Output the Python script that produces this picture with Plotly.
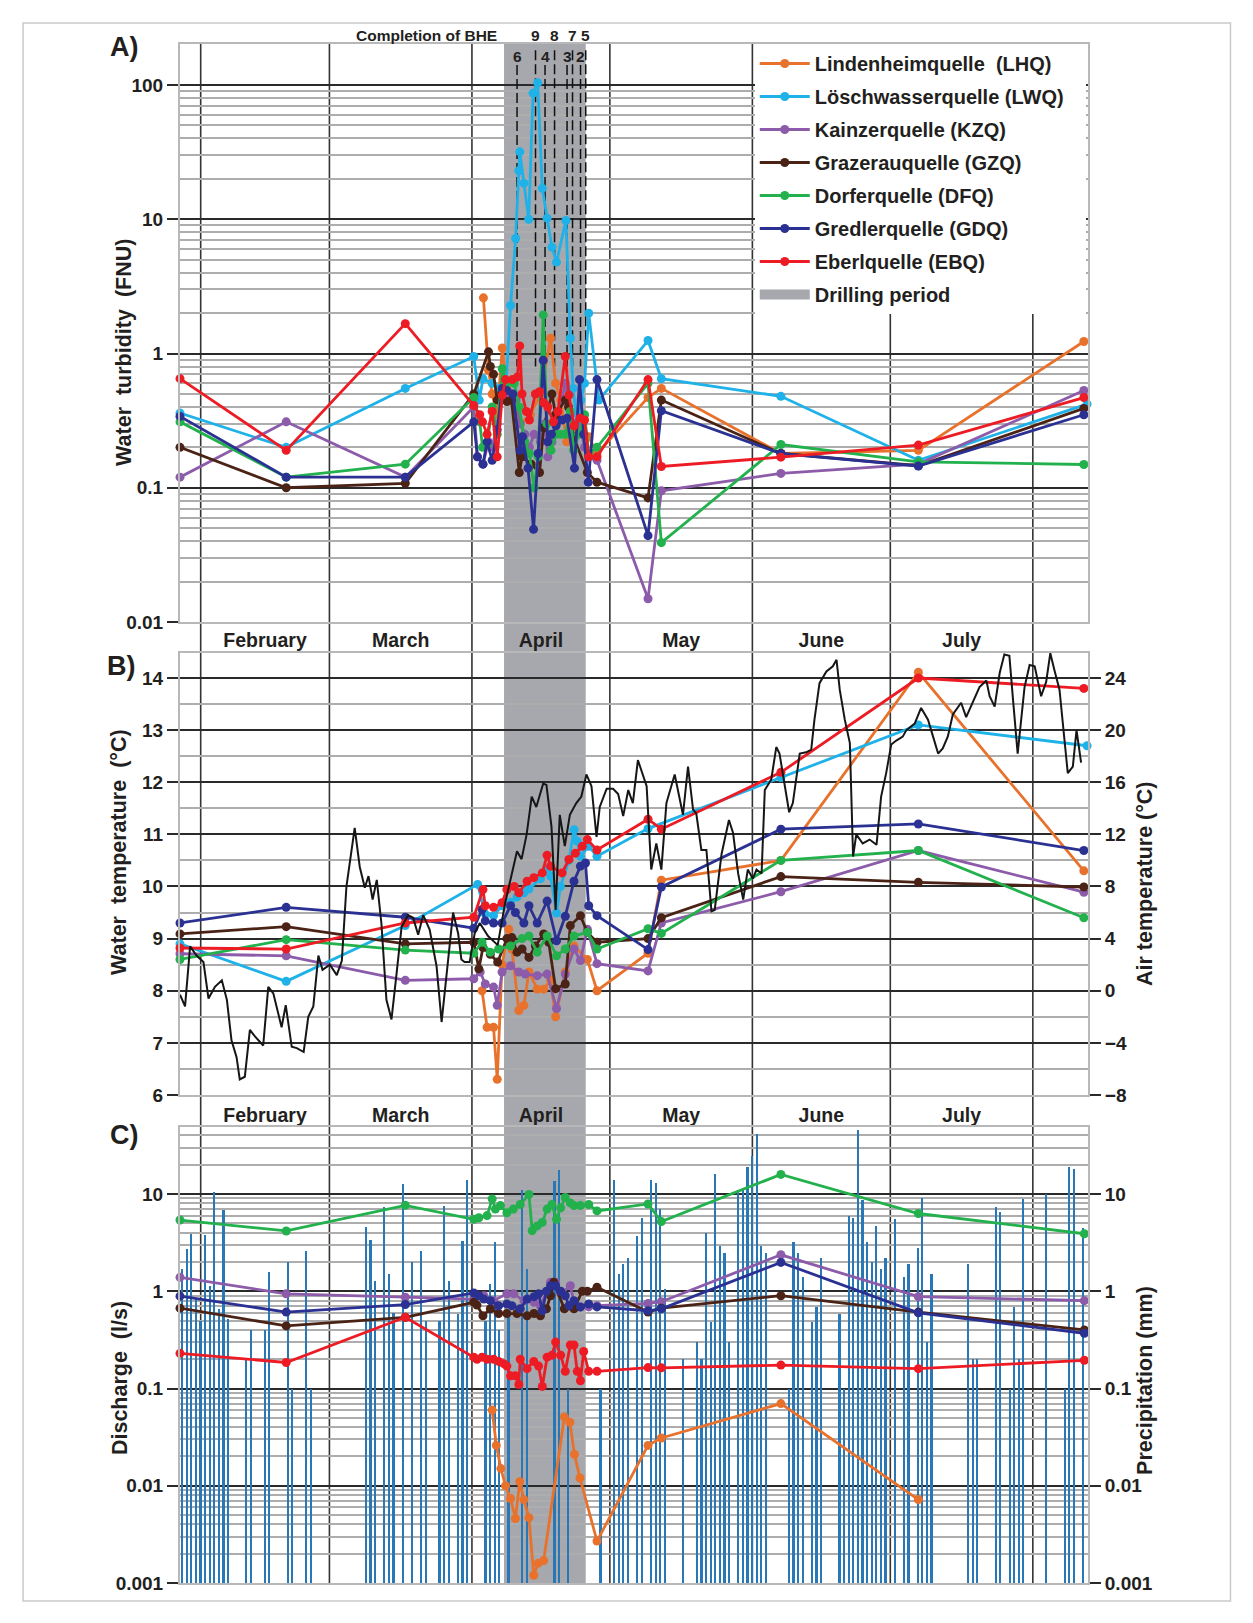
import numpy as np
import pandas as pd
import plotly.graph_objects as go

# ---------------------------------------------------------------- data
# time values are day-of-year (1 = 1 January; fractions = time of day)
codes = ["LHQ", "LWQ", "KZQ", "GZQ", "DFQ", "GDQ", "EBQ"]
names = ["Lindenheimquelle\u00a0 (LHQ)", "Löschwasserquelle (LWQ)\u00a0\u00a0\u00a0", "Kainzerquelle (KZQ)",
         "Grazerauquelle (GZQ)", "Dorferquelle (DFQ)", "Gredlerquelle (GDQ)", "Eberlquelle (EBQ)"]
colors = ["#E8722C", "#1EB2E8", "#8C5BAA", "#4B2316", "#22B14C", "#2A3192", "#ED1C24"]

# --- A) water turbidity (FNU)
turb_LHQ_day = [93.5, 94.6, 95.4, 96.5, 97.6, 98.6, 99.8, 101.5, 103.7, 105.9, 108.1, 109.2, 110.3, 111.6,
                112.7, 114.1, 116.4, 118.2, 129.3, 132.2, 158.2, 188.1, 224.1]
turb_LHQ = [2.6, 0.75, 0.5, 0.35, 1.1, 0.55, 0.45, 0.3, 0.35, 0.5, 1.3, 0.6, 0.45, 0.22,
            0.23, 0.3, 0.24, 0.18, 0.47, 0.55, 0.18, 0.19, 1.23]
turb_LWQ_day = [27.5, 50.6, 76.5, 91.4, 92.6, 93.4, 95.4, 96.8, 98.3, 99.4, 100.5, 101.2, 101.4, 102.3,
                103.35, 104.3, 105.3, 106.3, 107.35, 108.4, 109.4, 111.45, 112.4, 113.0, 113.9, 114.7,
                115.5, 116.4, 118.6, 129.3, 132.2, 158.2, 188.1, 224.8]
turb_LWQ = [0.36, 0.2, 0.55, 0.95, 0.45, 0.65, 0.6, 0.55, 0.5, 2.28, 7.2, 23, 31.8, 18.6,
            10, 87, 104, 17, 10.2, 6.2, 4.8, 9.8, 1.3, 0.55, 0.3, 0.45,
            0.6, 2.0, 0.45, 1.25, 0.65, 0.48, 0.16, 0.42]
turb_KZQ_day = [27.5, 50.6, 76.5, 91.4, 92.2, 93.4, 94.6, 95.4, 96.5, 97.6, 99.4, 100.6, 101.5, 102.5,
                103.5, 104.5, 105.9, 106.8, 107.5, 108.4, 109.4, 111.3, 112.4, 113.3, 114.6, 115.5,
                116.4, 118.2, 129.3, 132.2, 158.2, 188.1, 224.1]
turb_KZQ = [0.12, 0.31, 0.12, 0.4, 0.17, 0.15, 0.22, 0.2, 0.3, 0.45, 0.5, 0.45, 0.3, 0.25,
            0.2, 0.25, 0.22, 0.3, 0.17, 0.22, 0.3, 0.6, 0.35, 0.3, 0.28, 0.2,
            0.17, 0.16, 0.0149, 0.095, 0.128, 0.15, 0.53]
turb_GZQ_day = [27.5, 50.6, 76.5, 91.4, 94.6, 95.0, 95.7, 96.5, 97.5, 98.6, 99.6, 101.3, 101.9, 103.9,
                105.7, 106.6, 108.4, 109.2, 111.3, 112.0, 113.1, 116.1, 118.2, 129.3, 132.2, 158.2,
                188.1, 224.1]
turb_GZQ = [0.2, 0.1, 0.108, 0.5, 1.03, 0.8, 0.7, 0.45, 0.5, 0.44, 0.45, 0.13, 0.17, 0.15,
            0.13, 0.28, 0.5, 0.35, 0.45, 0.4, 0.24, 0.13, 0.11, 0.084, 0.45, 0.18,
            0.146, 0.39]
turb_DFQ_day = [27.5, 50.6, 76.5, 91.4, 92.7, 93.3, 94.3, 95.4, 96.5, 97.6, 98.6, 100.2, 101.3, 102.5,
                103.5, 104.5, 105.4, 106.5, 107.3, 108.2, 109.3, 110.3, 111.3, 112.4, 113.1, 114.2,
                115.5, 116.4, 118.2, 129.3, 132.2, 158.2, 188.1, 224.1]
turb_DFQ = [0.31, 0.12, 0.15, 0.47, 0.31, 0.2, 0.21, 0.4, 0.25, 0.77, 0.6, 0.6, 0.4, 0.22,
            0.18, 0.1, 0.17, 1.94, 0.3, 0.19, 0.25, 0.25, 0.25, 0.37, 0.19, 0.25,
            0.35, 0.18, 0.2, 0.6, 0.039, 0.21, 0.156, 0.149]
turb_GDQ_day = [27.5, 50.6, 76.5, 91.4, 92.2, 93.4, 94.3, 95.4, 96.5, 97.6, 98.6, 99.9, 101.5, 102.0,
                103.2, 104.4, 105.4, 106.5, 107.5, 108.3, 109.3, 110.6, 111.7, 113.3, 114.4, 115.3,
                116.3, 118.2, 129.3, 132.2, 158.2, 188.1, 224.1]
turb_GDQ = [0.34, 0.12, 0.12, 0.31, 0.17, 0.15, 0.22, 0.16, 0.27, 0.55, 0.53, 0.5, 0.19, 0.24,
            0.14, 0.049, 0.18, 0.89, 0.22, 0.25, 0.29, 0.32, 0.33, 0.14, 0.64, 0.25,
            0.11, 0.64, 0.044, 0.375, 0.18, 0.145, 0.35]
turb_EBQ_day = [27.5, 50.6, 76.5, 91.4, 92.7, 93.3, 94.3, 95.4, 96.5, 97.6, 98.3, 99.8, 100.9, 101.4,
                101.9, 102.85, 103.5, 104.8, 105.7, 106.6, 107.5, 108.7, 109.7, 111.3, 112.1, 113.2,
                114.5, 115.5, 116.4, 118.2, 129.3, 132.2, 158.2, 188.1, 224.1]
turb_EBQ = [0.65, 0.19, 1.67, 0.41, 0.35, 0.31, 0.25, 0.37, 0.17, 0.49, 0.64, 0.64, 0.67, 1.14,
            0.5, 0.37, 0.32, 0.5, 0.52, 0.43, 0.4, 0.31, 0.37, 0.95, 0.49, 0.29,
            0.33, 0.32, 0.17, 0.17, 0.64, 0.144, 0.169, 0.208, 0.47]

# --- B) water temperature (°C)
temp_LHQ_day = [93.2, 94.3, 95.7, 96.5, 97.55, 99.0, 99.7, 101.2, 102.3, 103.4, 105.2, 106.6, 108.1,
                109.2, 111.3, 113.2, 116.1, 118.2, 129.3, 132.2, 158.2, 188.1, 224.1]
temp_LHQ = [8.0, 7.3, 7.3, 6.3, 8.5, 9.18, 8.8, 7.62, 7.72, 8.36, 8.03, 8.03, 8.2,
            7.5, 8.36, 8.86, 8.6, 8.0, 8.72, 10.12, 10.5, 14.11, 10.3]
temp_LWQ_day = [27.5, 50.6, 76.5, 92.25, 93.9, 95.7, 97.55, 99.4, 100.8, 102.3, 103.4, 105.9, 107.35,
                108.1, 109.4, 110.25, 112.1, 113.2, 113.9, 114.6, 116.4, 118.2, 129.3, 158.2, 188.1, 224.8]
temp_LWQ = [8.9, 8.18, 9.25, 10.04, 9.47, 9.44, 9.63, 9.7, 9.8, 9.88, 9.95, 10.15, 10.33,
            10.2, 9.49, 10.0, 10.5, 11.09, 10.87, 10.58, 10.77, 10.58, 11.11, 12.09, 13.1, 12.7]
temp_KZQ_day = [27.5, 50.6, 76.5, 91.4, 92.8, 93.9, 95.7, 96.5, 97.55, 99.4, 101.2, 102.6, 105.2,
                107.35, 109.4, 111.3, 113.2, 114.6, 116.1, 118.2, 129.3, 132.2, 158.2, 188.1, 224.1]
temp_KZQ = [8.71, 8.67, 8.2, 8.23, 8.36, 8.13, 8.07, 7.72, 8.36, 8.48, 8.36, 8.32, 8.29,
            8.32, 7.66, 8.32, 8.8, 8.58, 9.18, 8.52, 8.38, 9.3, 9.9, 10.69, 9.89]
temp_GZQ_day = [27.5, 50.6, 76.5, 91.4, 92.5, 93.4, 95.0, 96.6, 98.6, 99.7, 100.8, 101.9, 103.4,
                104.8, 106.6, 107.7, 109.2, 111.3, 112.4, 114.6, 116.1, 118.2, 129.3, 132.2, 158.2,
                188.1, 224.1]
temp_GZQ = [9.09, 9.23, 8.9, 8.93, 8.42, 8.83, 8.7, 8.55, 9.0, 9.02, 8.74, 8.8, 8.64,
            8.86, 9.09, 8.93, 8.04, 8.13, 9.25, 9.44, 9.12, 8.93, 9.0, 9.4, 10.19,
            10.08, 9.99]
temp_DFQ_day = [27.5, 50.6, 76.5, 91.4, 93.2, 95.0, 96.8, 99.4, 101.9, 103.4, 105.2, 107.35, 109.4,
                111.3, 113.2, 116.1, 118.2, 129.3, 132.2, 158.2, 188.1, 224.1]
temp_DFQ = [8.6, 8.98, 8.78, 8.72, 8.93, 8.74, 8.8, 8.86, 9.0, 9.05, 8.74, 9.05, 8.67,
            8.8, 9.05, 9.12, 8.8, 9.19, 9.1, 10.5, 10.69, 9.4]
temp_GDQ_day = [27.5, 50.6, 76.5, 91.4, 93.2, 93.9, 95.7, 97.55, 99.4, 100.45, 102.3, 103.4, 105.2,
                107.35, 109.4, 111.3, 113.2, 114.6, 115.7, 116.4, 118.2, 129.3, 132.2, 158.2, 188.1, 224.1]
temp_GDQ = [9.3, 9.6, 9.41, 9.2, 9.56, 9.34, 9.3, 9.3, 9.63, 9.5, 9.3, 9.63, 9.3,
            9.72, 8.96, 9.43, 10.1, 10.39, 10.45, 9.63, 9.44, 8.79, 9.99, 11.1, 11.2, 10.69]
temp_EBQ_day = [27.5, 50.6, 76.5, 91.4, 93.4, 93.9, 95.7, 97.55, 98.6, 100.2, 101.2, 103.0, 104.45,
                106.3, 107.35, 108.1, 110.6, 112.1, 113.5, 115.0, 116.1, 118.2, 129.3, 132.2, 158.2,
                188.1, 224.1]
temp_EBQ = [8.82, 8.8, 9.3, 9.41, 9.94, 9.63, 9.6, 9.69, 9.94, 10.0, 9.88, 10.1, 10.17,
            10.26, 10.6, 10.39, 10.26, 10.52, 10.64, 10.77, 10.9, 10.7, 11.29, 11.1, 12.19,
            14.0, 13.8]

# air temperature (°C): (day-of-year, value)
air_records = [
    (27.5, -0.3), (28.6, -1.2), (29.7, 3.4), (31.1, 2.7), (32.6, 2.2), (33.7, -0.6), (35.1, 0.3),
    (36.6, 0.8), (37.7, -0.7), (38.7, -3.8), (39.8, -5.1), (40.5, -6.8), (41.6, -6.6), (42.7, -3.0),
    (43.8, -3.5), (45.6, -4.2), (46.7, 0.3), (47.8, -0.2), (49.6, -2.8), (50.5, -1.1), (51.8, -4.3),
    (52.9, -4.4), (54.4, -4.7), (55.4, -2.0), (56.5, -1.2), (57.6, 2.7), (58.5, 1.6), (60.1, 2.0),
    (61.6, 1.2), (62.7, 2.3), (63.7, 8.0), (65.5, 12.5), (66.6, 9.5), (67.7, 7.9), (68.5, 8.8),
    (69.4, 7.0), (70.3, 8.5), (71.3, 5.2), (72.4, -0.7), (73.5, -2.2), (74.6, 1.3), (75.7, 4.9),
    (77.1, 5.8), (78.2, 5.6), (79.3, 4.3), (80.4, 5.8), (81.8, 4.7), (83.3, 1.9), (84.4, -2.4),
    (85.5, 1.3), (86.9, 6.0), (88.0, 4.4), (88.7, 2.4), (89.4, 2.2), (90.5, 2.2), (91.6, 4.4),
    (92.7, 5.2), (94.5, 4.2), (96.6, 3.5), (98.2, 6.7), (99.6, 8.8), (100.8, 10.7), (101.8, 10.1),
    (102.9, 12.0), (104.0, 14.9), (105.0, 14.1), (106.5, 15.9), (107.2, 15.8), (108.3, 12.6),
    (109.2, 6.2), (110.1, 13.5), (111.2, 11.1), (112.3, 13.5), (113.7, 14.4), (114.8, 14.9),
    (115.9, 16.6), (117.0, 15.7), (118.1, 11.8), (118.8, 14.1), (120.3, 15.5), (121.7, 15.5),
    (122.8, 15.1), (123.9, 13.4), (125.0, 15.4), (126.0, 14.4), (127.1, 17.7), (129.0, 15.7),
    (130.0, 9.3), (131.1, 11.3), (132.2, 9.3), (133.3, 14.4), (135.1, 16.6), (136.9, 13.5),
    (138.0, 17.2), (139.1, 13.9), (139.8, 13.6), (140.9, 10.8), (142.0, 10.8), (143.1, 6.1),
    (143.8, 6.2), (145.3, 10.5), (146.9, 13.1), (147.8, 12.1), (148.9, 9.0), (150.0, 7.0),
    (151.0, 9.3), (152.1, 8.6), (152.9, 9.3), (154.0, 9.0), (154.7, 15.4), (156.1, 16.2),
    (157.2, 18.7), (157.9, 18.2), (159.0, 15.9), (160.0, 13.7), (160.8, 14.4), (162.3, 18.2),
    (163.7, 18.3), (164.8, 18.5), (165.5, 20.8), (166.6, 23.6), (168.1, 24.5), (169.5, 24.9),
    (170.3, 25.4), (171.0, 23.1), (172.1, 20.8), (173.2, 19.0), (173.9, 10.3), (174.6, 12.0),
    (176.0, 11.3), (177.5, 11.6), (179.0, 11.2), (180.0, 14.9), (181.1, 16.7), (182.2, 18.9),
    (183.3, 19.2), (184.7, 19.5), (185.5, 20.0), (187.3, 20.5), (188.7, 21.7), (190.2, 20.8),
    (191.3, 19.5), (192.4, 18.2), (193.4, 18.6), (194.5, 19.5), (195.6, 21.2), (197.4, 22.1),
    (198.5, 21.0), (200.3, 22.4), (201.4, 23.3), (202.9, 23.8), (203.6, 22.6), (204.7, 21.8),
    (205.8, 24.4), (206.8, 25.8), (207.9, 25.7), (208.7, 22.3), (209.7, 18.2), (211.2, 23.3),
    (212.3, 25.0), (213.4, 24.9), (214.8, 22.6), (215.9, 23.7), (216.8, 25.9), (217.7, 24.6),
    (218.8, 23.1), (219.9, 19.2), (220.6, 16.7), (221.7, 17.2), (222.5, 20.0), (223.5, 17.5)]

# --- C) discharge (l/s)
disc_LHQ_day = [95.4, 96.3, 97.3, 98.3, 99.4, 100.45, 101.4, 102.3, 103.4, 104.45, 105.4, 106.6,
                111.1, 112.3, 113.3, 114.5, 118.2, 129.3, 132.2, 158.2, 188.1]
disc_LHQ = [0.06, 0.026, 0.015, 0.01, 0.0074, 0.0046, 0.011, 0.0072, 0.0047, 0.0012, 0.0016, 0.0017,
            0.051, 0.045, 0.021, 0.012, 0.0027, 0.026, 0.031, 0.07, 0.0072]
disc_KZQ_day = [27.5, 50.6, 76.5, 91.4, 93.6, 95.7, 98.6, 100.1, 102.3, 104.5, 105.9, 108.1, 109.2,
                110.3, 112.4, 113.2, 114.6, 116.4, 118.2, 129.3, 132.2, 158.2, 188.1, 224.2]
disc_KZQ = [1.39, 0.94, 0.87, 0.83, 0.9, 0.8, 0.94, 0.94, 0.8, 0.77, 0.71, 1.24, 1.24,
            0.94, 1.14, 0.77, 0.69, 0.69, 0.71, 0.75, 0.78, 2.37, 0.88, 0.8]
disc_GZQ_day = [27.5, 50.6, 76.5, 91.4, 92.1, 93.4, 95.0, 96.8, 98.6, 100.8, 103.0, 104.5, 105.9,
                107.2, 108.1, 108.8, 111.1, 113.2, 115.0, 116.1, 118.2, 129.3, 132.2, 158.2, 188.1, 224.2]
disc_GZQ = [0.67, 0.44, 0.54, 0.77, 0.72, 0.56, 0.66, 0.59, 0.59, 0.59, 0.56, 0.59, 0.56,
            0.66, 0.9, 1.24, 0.66, 0.66, 1.0, 1.0, 1.1, 0.61, 0.67, 0.9, 0.61, 0.4]
disc_DFQ_day = [27.5, 50.6, 76.5, 91.4, 92.5, 94.3, 95.4, 96.1, 97.2, 98.6, 100.0, 101.5, 103.4,
                104.1, 105.2, 106.3, 107.35, 108.4, 109.4, 110.3, 111.3, 112.4, 113.2, 114.6, 116.4,
                118.2, 129.3, 132.2, 158.2, 188.1, 224.2]
disc_DFQ = [5.4, 4.17, 7.65, 5.5, 5.7, 6.0, 8.9, 7.0, 7.6, 6.4, 7.0, 7.8, 9.9,
            4.2, 4.7, 5.1, 7.0, 7.8, 5.5, 7.2, 9.2, 8.1, 7.6, 7.6, 7.8,
            6.7, 7.9, 5.2, 15.9, 6.3, 3.9]
disc_GDQ_day = [27.5, 50.6, 76.5, 91.4, 92.5, 93.6, 95.0, 96.8, 98.6, 99.7, 101.5, 103.0, 104.5,
                105.5, 106.3, 107.2, 108.1, 109.2, 110.3, 111.3, 112.1, 113.2, 114.6, 116.4, 118.2,
                129.3, 132.2, 158.2, 188.1, 224.2]
disc_GDQ = [0.89, 0.61, 0.73, 0.96, 0.9, 0.83, 0.8, 0.71, 0.74, 0.71, 0.66, 0.83, 0.88,
            0.94, 0.63, 1.0, 1.14, 1.14, 1.0, 0.9, 0.71, 0.8, 0.69, 0.74, 0.69,
            0.63, 0.66, 1.98, 0.6, 0.37]
disc_EBQ_day = [27.5, 50.6, 76.5, 91.4, 92.1, 93.2, 94.3, 95.7, 96.8, 97.9, 98.6, 99.4, 100.45,
                101.2, 101.5, 103.0, 104.45, 105.5, 106.3, 107.35, 108.4, 109.2, 110.3, 111.3, 112.4,
                113.2, 113.9, 114.6, 115.3, 116.4, 118.2, 129.3, 132.2, 158.2, 188.1, 224.2]
disc_EBQ = [0.23, 0.185, 0.54, 0.21, 0.2, 0.21, 0.2, 0.2, 0.19, 0.18, 0.17, 0.135, 0.135,
            0.11, 0.2, 0.16, 0.19, 0.17, 0.105, 0.21, 0.22, 0.3, 0.22, 0.15, 0.28,
            0.28, 0.15, 0.12, 0.24, 0.15, 0.15, 0.164, 0.163, 0.174, 0.16, 0.195]

# daily precipitation (mm): (day-of-year, value)
precip_records = [
    (28, 1.7), (29, 2.7), (30, 3.9), (31, 0.83), (32, 0.5), (33, 3.8), (34, 1.14), (35, 10.5), (36, 0.66),
    (37, 6.85), (38, 0.52), (42, 0.2), (43, 0.4), (46, 0.4), (47, 1.56), (51, 1.98), (52, 0.1), (55, 2.6),
    (56, 0.1), (68, 4.6), (69, 3.4), (70, 1.26), (72, 7.4), (73, 1.5), (74, 0.6), (76, 12.6), (78, 1.98),
    (80, 2.6), (81, 0.5), (84, 0.5), (85, 7.6), (86, 1.26), (88, 0.59), (89, 3.3), (90, 14), (94, 0.5),
    (95, 1.2), (96, 3.2), (97, 0.4), (99, 0.6), (102, 11), (103, 1.7), (109, 13.6), (110, 17.5),
    (112, 0.1), (119, 0.1), (122, 13.8), (123, 1.5), (124, 1.9), (125, 2.2), (127, 3.7), (128, 5.7),
    (130, 14), (131, 13), (132, 7), (133, 1.05), (137, 0.2), (140, 0.3), (141, 0.2), (142, 4),
    (143, 0.48), (144, 16), (145, 2.9), (146, 2.5), (147, 0.3), (149, 11), (150, 11.6), (151, 19),
    (152, 24.5), (153, 41), (154, 2.9), (155, 2.5), (160, 0.1), (161, 3.2), (162, 2.5), (163, 1.4),
    (165, 0.48), (166, 0.69), (167, 2.2), (171, 0.58), (172, 0.1), (173, 5.9), (174, 5.7), (175, 46),
    (176, 8.7), (177, 3.2), (178, 2.0), (179, 4.7), (180, 1.7), (181, 2.2), (183, 5.5), (185, 1.4),
    (186, 1.9), (188, 2.8), (189, 9), (190, 0.3), (191, 1.5), (199, 1.9), (200, 0.2), (201, 0.2),
    (205, 7.4), (206, 6.5), (208, 0.1), (209, 0.69), (210, 0.2), (211, 8.8), (216, 10), (220, 0.1),
    (221, 19), (222, 18), (224, 4.5)]

# drilling period and completion of borehole heat exchangers (BHE)
drill_start_day, drill_end_day = 97.98, 115.75
bhe_labels = ["6", "9", "4", "8", "3", "7", "2", "5"]
bhe_day = [100.81, 104.83, 106.9, 108.97, 111.69, 112.88, 114.62, 115.75]
bhe_row = [2, 1, 2, 1, 2, 1, 2, 1]
month_starts = ["2015-02-01", "2015-03-01", "2015-04-01", "2015-05-01", "2015-06-01", "2015-07-01", "2015-08-01"]
x_range_days = [27.5, 225.0]

# ---------------------------------------------------------------- helpers
YEAR0 = pd.Timestamp("2015-01-01")


def to_dt(days):
    return [YEAR0 + pd.Timedelta(days=float(d) - 1.0) for d in days]


FONT = "Liberation Sans, Arial, sans-serif"
TXT = "#231F20"
MAJOR = "#2A2A2A"
MINOR = "#ADADAD"
FRAME = "#B8B8B8"
GREY = "#A6A8AD"

turb = {c: (globals()["turb_%s_day" % c], globals()["turb_%s" % c]) for c in codes}
temp = {c: (globals()["temp_%s_day" % c], globals()["temp_%s" % c]) for c in codes}
disc = {c: (globals()["disc_%s_day" % c], globals()["disc_%s" % c]) for c in codes if ("disc_%s" % c) in globals()}

fig = go.Figure()

# BHE completion markers (dashed lines in panel A)
for lab, d, row in zip(bhe_labels, bhe_day, bhe_row):
    fig.add_trace(go.Scatter(x=to_dt([d, d]), y=[182 if row == 1 else 141, 0.8], mode="lines",
                             line=dict(color="#111111", width=1.5, dash="10px,4px"),
                             xaxis="x", yaxis="y", showlegend=False, hoverinfo="skip", cliponaxis=False))

line_w, mk = 2.8, 9
for i, c in enumerate(codes):
    d, v = turb[c]
    fig.add_trace(go.Scatter(x=to_dt(d), y=v, mode="lines+markers", name=names[i],
                             line=dict(color=colors[i], width=line_w), marker=dict(size=mk, color=colors[i]),
                             xaxis="x", yaxis="y", legendgroup=c, legendrank=i + 1, cliponaxis=False))

# legend entry for the drilling period (the band itself is a layout shape)
fig.add_trace(go.Scatter(x=[None], y=[None], mode="lines", name="Drilling period",
                         line=dict(color=GREY, width=16), xaxis="x", yaxis="y",
                         legendgroup="drill", legendrank=8, hoverinfo="skip"))

for i, c in enumerate(codes):
    d, v = temp[c]
    fig.add_trace(go.Scatter(x=to_dt(d), y=v, mode="lines+markers", name=names[i], showlegend=False,
                             line=dict(color=colors[i], width=line_w), marker=dict(size=mk, color=colors[i]),
                             xaxis="x2", yaxis="y2", cliponaxis=False))

air_day = [r[0] for r in air_records]
air_temp = [r[1] for r in air_records]
fig.add_trace(go.Scatter(x=to_dt(air_day), y=air_temp, mode="lines", name="Air temperature",
                         showlegend=False, line=dict(color="#161616", width=2), xaxis="x2", yaxis="y3"))

precip_day = [r[0] for r in precip_records]
precip_mm = [r[1] for r in precip_records]
fig.add_trace(go.Bar(x=to_dt(precip_day), y=precip_mm, name="Precipitation", showlegend=False,
                     marker=dict(color="#2878B8", line=dict(width=0)), width=0.36 * 86400000,
                     xaxis="x3", yaxis="y4"))

for i, c in enumerate(codes):
    if c not in disc:
        continue
    d, v = disc[c]
    fig.add_trace(go.Scatter(x=to_dt(d), y=v, mode="lines+markers", name=names[i], showlegend=False,
                             line=dict(color=colors[i], width=line_w), marker=dict(size=mk, color=colors[i]),
                             xaxis="x3", yaxis="y5", cliponaxis=False))

# ---------------------------------------------------------------- layout
tickfont = dict(size=19, weight="bold", family=FONT, color=TXT)
monthfont = dict(size=19.5, weight="bold", family=FONT, color=TXT)
xr = to_dt(x_range_days)
xbase = dict(type="date", range=xr, showgrid=False, zeroline=False, showline=True, linecolor=FRAME,
             linewidth=2, mirror=True, ticks="", tick0="2015-02-01", dtick="M1", tickformat="%B",
             ticklabelmode="period", tickfont=monthfont)
ybase = dict(showline=True, linecolor=FRAME, linewidth=2, ticks="outside", ticklen=11, tickcolor=MAJOR,
             tickwidth=1.5, tickfont=tickfont, zeroline=False, ticklabelstandoff=0)
logminor = dict(dtick="D1", showgrid=True, gridcolor=MINOR, gridwidth=1.5, ticks="")

dom_A = [0.62443, 1.0]
dom_B = [0.31709, 0.60448]
dom_C = [0.0, 0.29630]

fig.update_layout(
    width=1245, height=1615,
    margin=dict(l=172, r=165, t=36, b=40),
    paper_bgcolor="white", plot_bgcolor="rgba(0,0,0,0)",
    font=dict(family=FONT, color=TXT),
    bargap=0,
    legend=dict(x=0.633, xanchor="left", y=1.0, yanchor="top", bgcolor="white", borderwidth=0,
                font=dict(size=20, weight="bold", family=FONT, color=TXT), tracegroupgap=4,
                itemwidth=50, itemclick=False),
    xaxis=dict(**xbase, anchor="y", ticklabelstandoff=0),
    xaxis2=dict(**xbase, anchor="y2", matches="x", ticklabelstandoff=2),
    xaxis3=dict(**{**xbase, "showticklabels": False}, anchor="y4", matches="x"),
    yaxis=dict(**ybase, type="log", range=[-2, 2.306], domain=dom_A, anchor="x", dtick=1, mirror=True,
               showgrid=True, gridcolor=MAJOR, gridwidth=1.5, minor=logminor),
    yaxis2=dict(**ybase, range=[6, 14.485], domain=dom_B, anchor="x2", dtick=1, tick0=0,
                showgrid=True, gridcolor=MAJOR, gridwidth=1.5,
                minor=dict(dtick=0.5, showgrid=True, gridcolor=MINOR, gridwidth=1.5, ticks="")),
    yaxis3=dict(**ybase, range=[-8, 25.94], overlaying="y2", side="right", anchor="x2", dtick=4, tick0=0,
                showgrid=False),
    yaxis4=dict(**ybase, type="log", range=[-3, 1.689], domain=dom_C, anchor="x3", side="right", dtick=1,
                showgrid=True, gridcolor=MAJOR, gridwidth=1.5, minor=logminor),
    yaxis5=dict(**ybase, type="log", range=[-3, 1.689], overlaying="y4", side="left", anchor="x3", dtick=1,
                showgrid=False),
)

shapes = [dict(type="rect", xref="x", yref="paper", x0=to_dt([drill_start_day])[0], x1=to_dt([drill_end_day])[0],
               y0=0, y1=1, fillcolor=GREY, line=dict(width=0), layer="below")]
for m in month_starts:
    shapes.append(dict(type="line", xref="x", yref="paper", x0=m, x1=m, y0=0, y1=1,
                       line=dict(color="#333333", width=1.6), layer="below"))
shapes.append(dict(type="rect", xref="paper", yref="paper", x0=-0.1728, x1=1.1569, y0=-0.0117, y1=1.0137,
                   line=dict(color="#CACACA", width=1.5), fillcolor="rgba(0,0,0,0)", layer="above"))
fig.update_layout(shapes=shapes)

ann = []
bold = lambda s: dict(size=s, weight="bold", family=FONT, color=TXT)
for txt, x, y in [("A)", -0.0606, 0.998), ("B)", -0.0644, 0.5958), ("C)", -0.0606, 0.2911)]:
    ann.append(dict(text=txt, x=x, y=y, xref="paper", yref="paper", showarrow=False, font=bold(27),
                    xanchor="center", yanchor="middle"))
for txt, x, y in [("Water\u00a0 turbidity\u00a0 (FNU)", -0.0617, 0.7999),
                  ("Water\u00a0 temperature\u00a0 (°C)", -0.0672, 0.475),
                  ("Discharge\u00a0 (l/s)", -0.066, 0.1332),
                  ("Air temperature (°C)", 1.0628, 0.4542),
                  ("Precipitation (mm)", 1.0628, 0.1313)]:
    ann.append(dict(text=txt, x=x, y=y, xref="paper", yref="paper", showarrow=False, font=bold(21.5),
                    textangle=-90, xanchor="center", yanchor="middle"))
ann.append(dict(text="Completion of BHE", x=0.272, y=1.0052, xref="paper", yref="paper", showarrow=False,
                font=bold(15.5), xanchor="center", yanchor="middle"))
for lab, d, row in zip(bhe_labels, bhe_day, bhe_row):
    ann.append(dict(text=lab, x=to_dt([d])[0], y=1.0052 if row == 1 else 0.9916, xref="x", yref="paper",
                    showarrow=False, font=bold(15.5), xanchor="center", yanchor="middle"))
fig.update_layout(annotations=ann)

fig.write_html("out.html")
